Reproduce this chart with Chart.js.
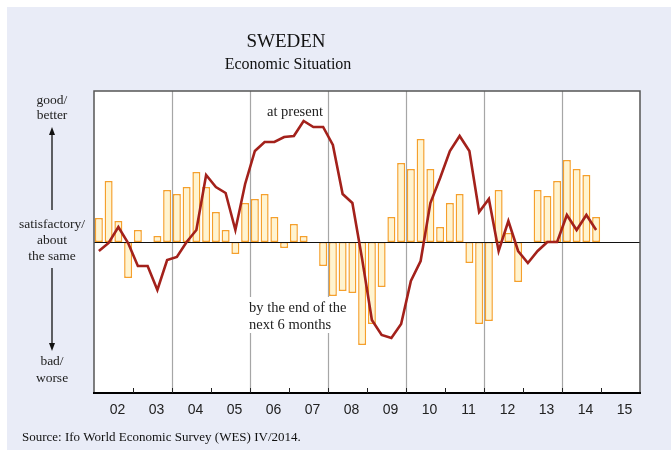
<!DOCTYPE html>
<html><head><meta charset="utf-8">
<script src="https://cdn.jsdelivr.net/npm/chart.js@4/dist/chart.umd.min.js"></script>
<style>html,body{margin:0;padding:0;background:#fff}#wrap{position:relative;width:671px;height:450px}canvas{display:block}</style>
</head><body><div id="wrap"><canvas id="c" width="671" height="450"></canvas></div>
<script>
// Year tick labels (2002-2015)
const years = ['02','03','04','05','06','07','08','09','10','11','12','13','14','15'];
// Quarterly categories built from the years
const quarterLabels = years.flatMap(y => ['Q1','Q2','Q3','Q4'].map(q => q + '/' + y));
// Bars: economic situation expected by the end of the next 6 months (2002Q1-2014Q4)
const nextSixMonths = [24, 61, 21, -36, 12, null, 6, 52, 48, 55, 70, 55, 30, 12, -12, 39,
  43, 48, 25, -6, 18, 6, null, -24, -54, -49, -51, -103, -82, -45, 25, 79,
  73, 103, 73, 15, 39, 48, -21, -82, -79, 52, 9, -40, null, 52, 46, 61,
  82, 73, 67, 25];
// Line: economic situation at present (2002Q1-2014Q4)
const atPresent = [-9, -1, 15, -1, -24, -24, -48, -18, -15, 0, 12, 67, 55, 49, 12, 58,
  91, 100, 100, 105, 106, 121, 115, 115, 97, 48, 39, -17, -78, -93, -96, -82,
  -39, -19, 39, 64, 91, 106, 91, 30, 43, -9, 21, -9, -21, -9, 0, 0,
  27, 12, 27, 12];

const SERIF = '"Liberation Serif", "Times New Roman", serif';

const decor = {
  id: 'decor',
  beforeDraw(chart) {
    const ctx = chart.ctx, a = chart.chartArea;
    ctx.save();
    ctx.fillStyle = '#ffffff';
    ctx.fillRect(0, 0, chart.width, chart.height);
    ctx.fillStyle = '#e9ecf7';
    ctx.fillRect(7, 7, chart.width - 7, chart.height - 7);
    ctx.fillStyle = '#ffffff';
    ctx.fillRect(a.left, a.top, a.right - a.left, a.bottom - a.top);
    const xs = chart.scales.xy;
    ctx.strokeStyle = '#a6a6a6';
    ctx.lineWidth = 1.2;
    for (let k = 2; k < years.length; k += 2) {
      const x = Math.round(xs.getPixelForValue(k)) + 0.5;
      ctx.beginPath(); ctx.moveTo(x, a.top); ctx.lineTo(x, a.bottom); ctx.stroke();
    }
    ctx.restore();
  },
  beforeDatasetsDraw(chart) {
    const ctx = chart.ctx;
    ctx.save();
    ctx.fillStyle = '#ffffff';
    ctx.fillRect(247, 297, 131, 36);
    ctx.fillStyle = '#222';
    ctx.font = '14.5px ' + SERIF;
    ctx.textAlign = 'left';
    ctx.textBaseline = 'alphabetic';
    ctx.fillText('by the end of the', 249, 312);
    ctx.fillText('next 6 months', 249, 329);
    ctx.fillText('at present', 267, 116);
    ctx.restore();
  },
  afterDatasetDraw(chart, args) {
    if (args.index !== 1) return;
    const ctx = chart.ctx, a = chart.chartArea;
    const y0 = Math.round(chart.scales.y.getPixelForValue(0)) + 0.5;
    ctx.save();
    ctx.strokeStyle = '#111';
    ctx.lineWidth = 1;
    ctx.beginPath(); ctx.moveTo(a.left, y0); ctx.lineTo(a.right, y0); ctx.stroke();
    ctx.restore();
  },
  afterDraw(chart) {
    const ctx = chart.ctx, a = chart.chartArea;
    const xs = chart.scales.xy;
    ctx.save();
    ctx.strokeStyle = '#555';
    ctx.lineWidth = 1.5;
    ctx.beginPath();
    ctx.moveTo(a.left, a.bottom); ctx.lineTo(a.left, a.top); ctx.lineTo(a.right, a.top); ctx.lineTo(a.right, a.bottom);
    ctx.stroke();
    ctx.strokeStyle = '#000';
    ctx.lineWidth = 2;
    ctx.beginPath(); ctx.moveTo(a.left - 1, a.bottom); ctx.lineTo(a.right + 1, a.bottom); ctx.stroke();
    ctx.lineWidth = 1;
    ctx.strokeStyle = '#222';
    for (let k = 1; k < years.length; k++) {
      const x = Math.round(xs.getPixelForValue(k)) + 0.5;
      ctx.beginPath(); ctx.moveTo(x, a.bottom); ctx.lineTo(x, a.bottom - 5); ctx.stroke();
    }
    ctx.fillStyle = '#111';
    ctx.textAlign = 'center';
    ctx.textBaseline = 'alphabetic';
    ctx.font = '19px ' + SERIF;
    ctx.fillText('SWEDEN', 286, 47);
    ctx.font = '16px ' + SERIF;
    ctx.fillText('Economic Situation', 288, 69);
    ctx.font = '13.5px ' + SERIF;
    ctx.fillStyle = '#222';
    const cx = 52;
    ctx.fillText('good/', cx, 104);
    ctx.fillText('better', cx, 119);
    ctx.fillText('satisfactory/', cx, 228);
    ctx.fillText('about', cx, 244);
    ctx.fillText('the same', cx, 260);
    ctx.fillText('bad/', cx, 365);
    ctx.fillText('worse', cx, 382);
    ctx.strokeStyle = '#111';
    ctx.fillStyle = '#111';
    ctx.lineWidth = 1.3;
    ctx.beginPath(); ctx.moveTo(cx, 210); ctx.lineTo(cx, 132); ctx.stroke();
    ctx.beginPath(); ctx.moveTo(cx, 127); ctx.lineTo(cx - 3, 135); ctx.lineTo(cx + 3, 135); ctx.closePath(); ctx.fill();
    ctx.beginPath(); ctx.moveTo(cx, 268); ctx.lineTo(cx, 346); ctx.stroke();
    ctx.beginPath(); ctx.moveTo(cx, 351); ctx.lineTo(cx - 3, 343); ctx.lineTo(cx + 3, 343); ctx.closePath(); ctx.fill();
    ctx.textAlign = 'left';
    ctx.font = '13px ' + SERIF;
    ctx.fillText('Source: Ifo World Economic Survey (WES) IV/2014.', 22, 441);
    ctx.restore();
  }
};

new Chart(document.getElementById('c'), {
  type: 'bar',
  data: {
    labels: quarterLabels,
    datasets: [
      {
        type: 'line',
        label: 'at present',
        data: atPresent,
        borderColor: '#a3211b',
        borderWidth: 2.6,
        pointRadius: 0,
        tension: 0,
        fill: false,
        xAxisID: 'x', yAxisID: 'y'
      },
      {
        type: 'bar',
        label: 'by the end of the next 6 months',
        data: nextSixMonths,
        backgroundColor: '#fff4d0',
        borderColor: '#f5a02c',
        borderWidth: 1.5,
        borderSkipped: false,
        categoryPercentage: 1,
        barPercentage: 0.82,
        xAxisID: 'x', yAxisID: 'y'
      }
    ]
  },
  options: {
    responsive: false,
    animation: false,
    devicePixelRatio: 1,
    layout: { padding: { left: 94, right: 31, top: 91, bottom: 0 } },
    plugins: { legend: { display: false }, tooltip: { enabled: false }, title: { display: false } },
    scales: {
      x: { type: 'category', display: false, offset: true, grid: { display: false } },
      xy: {
        type: 'linear', position: 'bottom', min: 0, max: years.length, offset: false,
        afterBuildTicks: s => { s.ticks = years.map((y, i) => ({ value: i + 0.5 })); },
        afterFit: s => { s.height = 57; },
        grid: { display: false, drawTicks: false, offset: false },
        border: { display: false },
        ticks: {
          autoSkip: false, maxRotation: 0, padding: 9, labelOffset: 4,
          color: '#222',
          font: { family: '"Liberation Sans", Arial, sans-serif', size: 14 },
          callback: v => years[Math.floor(v)]
        }
      },
      y: { display: false, min: -151, max: 151 }
    }
  },
  plugins: [decor]
});
</script>
</body></html>
